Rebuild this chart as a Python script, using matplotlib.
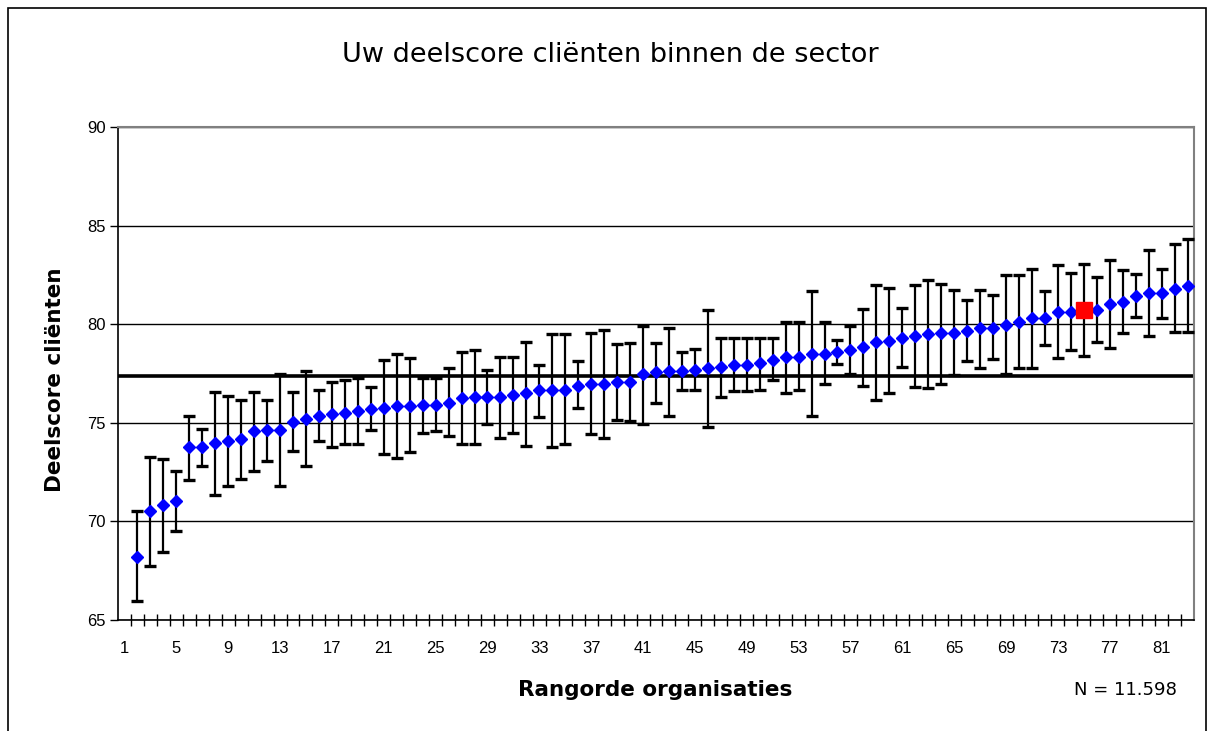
import matplotlib
matplotlib.use("Agg")
import matplotlib.pyplot as plt
from matplotlib.patches import Rectangle
from matplotlib.ticker import FixedLocator

plt.rcParams['font.family'] = ['Liberation Sans', 'DejaVu Sans']

# ---- data ----
ranks = list(range(2, 84))  # rank position of each organisation (82 points)

means = [68.19, 70.52, 70.84, 71.01, 73.75, 73.75, 74.00, 74.07, 74.16, 74.56,
         74.65, 74.65, 75.03, 75.17, 75.34, 75.46, 75.52, 75.61, 75.70, 75.76,
         75.83, 75.83, 75.91, 75.91, 76.01, 76.25, 76.33, 76.33, 76.33, 76.42,
         76.50, 76.64, 76.64, 76.64, 76.89, 76.98, 76.98, 77.06, 77.06, 77.48,
         77.57, 77.65, 77.62, 77.70, 77.79, 77.85, 77.94, 77.94, 78.02, 78.19,
         78.33, 78.33, 78.50, 78.50, 78.61, 78.70, 78.83, 79.09, 79.17, 79.31,
         79.39, 79.48, 79.56, 79.56, 79.65, 79.81, 79.81, 79.95, 80.12, 80.29,
         80.29, 80.63, 80.63, 80.74, 80.71, 81.01, 81.13, 81.42, 81.59, 81.59,
         81.81, 81.93]

uppers = [70.52, 73.26, 73.18, 72.55, 75.37, 74.70, 76.55, 76.35, 76.17, 76.55,
          76.17, 77.45, 76.55, 77.62, 76.64, 77.06, 77.15, 77.26, 76.81, 78.19,
          78.50, 78.28, 77.26, 77.26, 77.77, 78.58, 78.70, 77.70, 78.36, 78.36,
          79.09, 77.94, 79.48, 79.48, 78.11, 79.56, 79.71, 78.99, 79.07, 79.93,
          79.07, 79.80, 78.61, 78.73, 80.74, 79.31, 79.31, 79.31, 79.31, 79.31,
          80.10, 80.10, 81.66, 80.10, 79.22, 79.90, 80.78, 81.99, 81.82, 80.83,
          81.99, 82.25, 82.06, 81.72, 81.25, 81.72, 81.50, 82.48, 82.48, 82.79,
          81.67, 82.99, 82.62, 83.04, 82.40, 83.28, 82.74, 82.57, 83.78, 82.79,
          84.05, 84.34]

lowers = [65.95, 67.72, 68.45, 69.49, 72.08, 72.80, 71.32, 71.82, 72.16, 72.55,
          73.06, 71.82, 73.56, 72.79, 74.07, 73.77, 73.90, 73.90, 74.65, 73.43,
          73.21, 73.51, 74.48, 74.58, 74.31, 73.90, 73.90, 74.95, 74.24, 74.48,
          73.82, 75.29, 73.75, 73.90, 75.76, 74.41, 74.24, 75.12, 75.08, 74.95,
          76.01, 75.37, 76.67, 76.67, 74.81, 76.33, 76.59, 76.59, 76.67, 77.18,
          76.50, 76.67, 75.37, 76.98, 77.96, 77.48, 76.89, 76.18, 76.50, 77.85,
          76.81, 76.76, 76.99, 77.42, 78.13, 77.80, 78.21, 77.45, 77.80, 77.80,
          78.94, 78.29, 78.68, 78.38, 79.10, 78.77, 79.56, 80.37, 79.41, 80.29,
          79.58, 79.58]

own_rank = 75          # highlighted organisation
sector_average = 77.38

title = "Uw deelscore cliënten binnen de sector"
ylabel = "Deelscore cliënten"
xlabel = "Rangorde organisaties"
n_text = "N = 11.598"
y_ticks = [65, 70, 75, 80, 85, 90]
x_labels = list(range(1, 84, 4))

# ---- figure ----
W, H = 1213, 731
fig = plt.figure(figsize=(W / 100, H / 100), dpi=100)
fig.patch.set_facecolor('white')

# chart-area border
fig.patches.append(Rectangle((8 / W, -0.05), (1206 - 8) / W, (H - 8) / H + 0.05,
                             transform=fig.transFigure, fill=False,
                             edgecolor='black', linewidth=1.2))

L, R, T, B = 118, 1194, 127, 620
ax = fig.add_axes([L / W, 1 - B / H, (R - L) / W, (B - T) / H])

ax.set_xlim(0.5, 83.5)
ax.set_ylim(65, 90)

err_lo = [m - lo for m, lo in zip(means, lowers)]
err_hi = [hi - m for m, hi in zip(means, uppers)]

ax.axhline(sector_average, color='black', linewidth=2.6, zorder=2)

ax.errorbar(ranks, means, yerr=[err_lo, err_hi], fmt='none', ecolor='black',
            elinewidth=1.6, capsize=4.5, capthick=2.4, zorder=3)
ax.plot(ranks, means, linestyle='none', marker='D', markersize=6.3,
        color='#0000FF', markeredgecolor='#0000FF', zorder=4)

idx = ranks.index(own_rank)
ax.plot([own_rank], [means[idx]], linestyle='none', marker='s', markersize=11,
        color='#FF0000', markeredgecolor='#FF0000', zorder=5)

# axes styling
ax.set_yticks(y_ticks)
ax.yaxis.grid(True, color='black', linewidth=1.0)
ax.set_axisbelow(True)
ax.tick_params(axis='y', direction='out', length=6, width=1, labelsize=12, pad=3)

ax.xaxis.set_major_locator(FixedLocator(x_labels))
ax.set_xticklabels([str(v) for v in x_labels])
ax.tick_params(axis='x', which='major', length=0, labelsize=12, pad=15)
ax.xaxis.set_minor_locator(FixedLocator([k + 0.5 for k in range(1, 83)]))
ax.tick_params(axis='x', which='minor', direction='inout', length=9, width=1)

for side in ('left', 'bottom'):
    ax.spines[side].set_color('black')
    ax.spines[side].set_linewidth(1.2)
for side in ('top', 'right'):
    ax.spines[side].set_color('#808080')
    ax.spines[side].set_linewidth(1.5)

# texts
fig.text(610 / W, 1 - 55 / H, title, ha='center', va='center', fontsize=19.5,
         family=['DejaVu Sans'])
fig.text(55 / W, 1 - 380 / H, ylabel, ha='center', va='center', rotation=90,
         fontsize=15.5, fontweight='bold', family=['DejaVu Sans'])
fig.text(655 / W, 1 - 690 / H, xlabel, ha='center', va='center',
         fontsize=15.5, fontweight='bold', family=['DejaVu Sans'])
fig.text(1125 / W, 1 - 690 / H, n_text, ha='center', va='center', fontsize=13,
         family=['DejaVu Sans'])

fig.savefig('out.png', dpi=100)
